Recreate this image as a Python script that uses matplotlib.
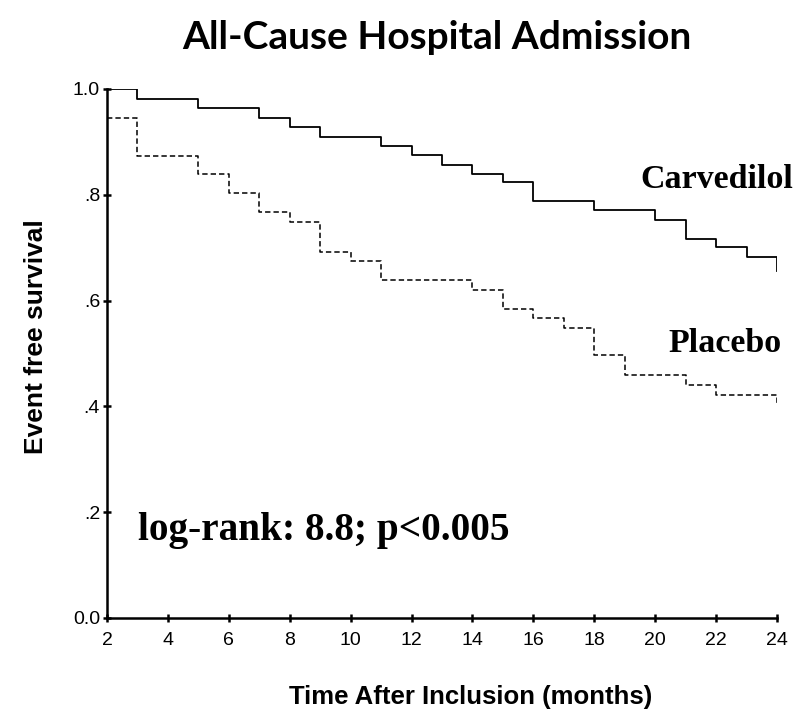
import matplotlib.pyplot as plt

# step change times (months) and survival levels
carv_t = [2, 3, 5, 7, 8, 9, 11, 12, 13, 14, 15, 16, 18, 20, 21, 22, 23, 24]
carv_s = [1.0, 0.981, 0.965, 0.946, 0.929, 0.910, 0.893, 0.876, 0.857,
          0.839, 0.824, 0.788, 0.771, 0.752, 0.716, 0.701, 0.683, 0.655]

plac_t = [2, 3, 5, 6, 7, 8, 9, 10, 11, 14, 15, 16, 17, 18, 19, 21, 22, 24]
plac_s = [0.946, 0.874, 0.839, 0.803, 0.767, 0.748, 0.692, 0.675, 0.639,
          0.620, 0.585, 0.567, 0.548, 0.497, 0.459, 0.440, 0.422, 0.406]

xticks = [2, 4, 6, 8, 10, 12, 14, 16, 18, 20, 22, 24]
yticks = [0.0, 0.2, 0.4, 0.6, 0.8, 1.0]
ytick_labels = ['0.0', '.2', '.4', '.6', '.8', '1.0']

fig = plt.figure(figsize=(8.04, 7.20), dpi=100)
ax = fig.add_axes([0.1331, 0.1417, 0.8333, 0.7347])

ax.step(carv_t, carv_s, where='post', color='black', lw=1.3)
ax.step(plac_t, plac_s, where='post', color='black', lw=1.1,
        linestyle=(0, (3.5, 2)))

ax.set_xlim(2, 24)
ax.set_ylim(0, 1.0)
ax.set_xticks(xticks)
ax.set_yticks(yticks)
ax.set_yticklabels(ytick_labels)
for s in ['top', 'right']:
    ax.spines[s].set_visible(False)
for s in ['left', 'bottom']:
    ax.spines[s].set_linewidth(1.8)
ax.tick_params(direction='inout', length=6, width=1.8, labelsize=14)
ax.tick_params(axis='x', pad=7)
ax.tick_params(axis='y', pad=2)
for lab in ax.get_xticklabels() + ax.get_yticklabels():
    lab.set_fontfamily('Liberation Sans')

ax.text(19.5, 0.813, 'Carvedilol', family='Liberation Serif',
        fontweight='bold', fontsize=24.5, va='baseline', ha='left')
ax.text(20.42, 0.503, 'Placebo', family='Liberation Serif',
        fontweight='bold', fontsize=24.5, va='baseline', ha='left')
ax.text(3.02, 0.147, 'log-rank: 8.8; p<0.005', family='Liberation Serif',
        fontweight='bold', fontsize=28.3, va='baseline', ha='left')

fig.text(0.543, 0.932, 'All-Cause Hospital Admission', family='Lato',
         fontweight='bold', fontsize=28, ha='center', va='baseline')
fig.text(0.045, 0.533, 'Event free survival', family='Liberation Sans',
         fontweight='bold', fontsize=19, rotation=90, ha='center', va='center')
fig.text(0.585, 0.022, 'Time After Inclusion (months)', family='Liberation Sans',
         fontweight='bold', fontsize=18.5, ha='center', va='baseline')

fig.savefig('out.png', dpi=100)
